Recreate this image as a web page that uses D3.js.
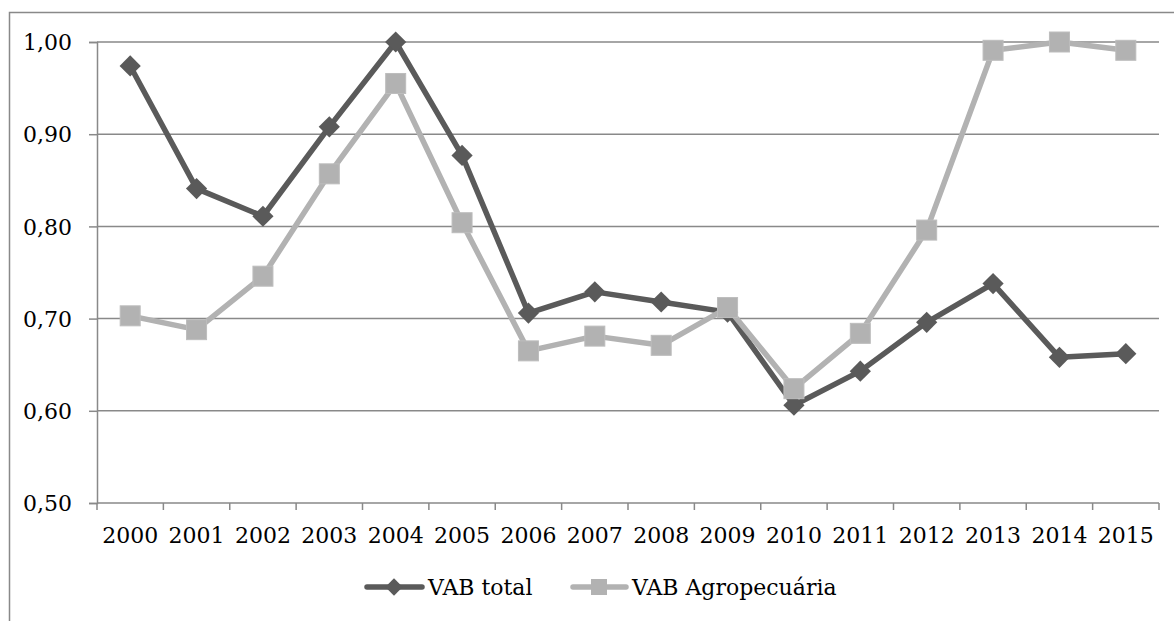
<!DOCTYPE html>
<html>
<head>
<meta charset="utf-8">
<script src="https://cdn.jsdelivr.net/npm/d3@7"></script>
<style>
  body { margin: 0; background: #fff; }
  svg text { fill: #000; }
</style>
</head>
<body>
<svg id="chart" width="1174" height="621"></svg>
<script>
// values
const years = ["2000", "2001", "2002", "2003", "2004", "2005", "2006", "2007",
               "2008", "2009", "2010", "2011", "2012", "2013", "2014", "2015"];
const vabTotal = [0.974, 0.841, 0.811, 0.908, 1.000, 0.877, 0.706, 0.729,
                  0.718, 0.707, 0.606, 0.643, 0.696, 0.738, 0.658, 0.662];
const vabAgro = [0.703, 0.688, 0.746, 0.857, 0.955, 0.804, 0.665, 0.681,
                 0.671, 0.712, 0.624, 0.684, 0.796, 0.991, 1.000, 0.991];
const yTicks = [0.5, 0.6, 0.7, 0.8, 0.9, 1.0];
const seriesNames = ["VAB total", "VAB Agropecuária"];

const dark = "#5a5a5a", light = "#b2b2b2", grid = "#898989";
const fontSize = 22;

const svg = d3.select("#chart").style("font-family", "DejaVu Serif");

// outer frame (right and bottom edges fall outside the picture)
svg.append("path")
  .attr("d", "M9.5,621 L9.5,12.5 L1174,12.5")
  .attr("fill", "none")
  .attr("stroke", grid)
  .attr("stroke-width", 1.5);

const plot = { left: 97, right: 1159, top: 42, bottom: 503 };

const x = d3.scaleBand().domain(years).range([plot.left, plot.right]);
const y = d3.scaleLinear().domain([0.5, 1.0]).range([plot.bottom, plot.top]);
const fmt = d => d3.format(".2f")(d).replace(".", ",");

// gridlines
svg.append("g")
  .selectAll("line")
  .data(yTicks.filter(d => d > 0.5))
  .enter()
  .append("line")
  .attr("x1", plot.left)
  .attr("x2", plot.right)
  .attr("y1", d => y(d))
  .attr("y2", d => y(d))
  .attr("stroke", grid)
  .attr("stroke-width", 1.5);

// y axis
const yAxis = svg.append("g")
  .attr("transform", `translate(${plot.left},0)`)
  .call(d3.axisLeft(y).tickValues(yTicks).tickFormat(fmt).tickSize(8).tickPadding(17));
yAxis.attr("font-family", null).attr("font-size", fontSize);
yAxis.select(".domain").attr("stroke", grid).attr("stroke-width", 1.5);
yAxis.selectAll(".tick line").attr("stroke", grid).attr("stroke-width", 1.5);
yAxis.selectAll(".tick text")
  .attr("fill", "#000")
  .attr("dy", "0.35em");

// x axis with ticks at category boundaries
const xAxis = svg.append("g")
  .attr("transform", `translate(0,${plot.bottom})`);
xAxis.append("line")
  .attr("x1", plot.left).attr("x2", plot.right)
  .attr("stroke", grid).attr("stroke-width", 1.5);
xAxis.selectAll(".xtick")
  .data(years.concat(["end"]))
  .enter()
  .append("line")
  .attr("class", "xtick")
  .attr("x1", (d, i) => plot.left + i * x.bandwidth())
  .attr("x2", (d, i) => plot.left + i * x.bandwidth())
  .attr("y1", 0).attr("y2", 7)
  .attr("stroke", grid).attr("stroke-width", 1.5);
xAxis.selectAll(".xlabel")
  .data(years)
  .enter()
  .append("text")
  .attr("class", "xlabel")
  .attr("x", d => x(d) + x.bandwidth() / 2)
  .attr("y", 40)
  .attr("text-anchor", "middle")
  .attr("font-size", fontSize)
  .text(d => d);

const line = d3.line()
  .x((d, i) => x(years[i]) + x.bandwidth() / 2)
  .y(d => y(d));

const diamond = d3.symbol().type(d3.symbolSquare).size(225);

// VAB total
svg.append("path")
  .datum(vabTotal)
  .attr("d", line)
  .attr("fill", "none")
  .attr("stroke", dark)
  .attr("stroke-width", 5.5)
  .attr("stroke-linejoin", "round");
svg.append("g")
  .selectAll("path")
  .data(vabTotal)
  .enter()
  .append("path")
  .attr("d", diamond)
  .attr("transform", (d, i) => `translate(${x(years[i]) + x.bandwidth() / 2},${y(d)}) rotate(45)`)
  .attr("fill", dark);

// VAB Agropecuária
svg.append("path")
  .datum(vabAgro)
  .attr("d", line)
  .attr("fill", "none")
  .attr("stroke", light)
  .attr("stroke-width", 5.5)
  .attr("stroke-linejoin", "round");
svg.append("g")
  .selectAll("rect")
  .data(vabAgro)
  .enter()
  .append("rect")
  .attr("x", (d, i) => x(years[i]) + x.bandwidth() / 2 - 10)
  .attr("y", d => y(d) - 10)
  .attr("width", 20)
  .attr("height", 20)
  .attr("fill", light)
  .attr("stroke", "#bdbdbd")
  .attr("stroke-width", 1);

// legend
const legendY = 587;
const leg = svg.append("g");
leg.append("line")
  .attr("x1", 367).attr("x2", 422).attr("y1", legendY).attr("y2", legendY)
  .attr("stroke", dark).attr("stroke-width", 5.5).attr("stroke-linecap", "round");
leg.append("path")
  .attr("d", d3.symbol().type(d3.symbolSquare).size(150))
  .attr("transform", `translate(394,${legendY}) rotate(45)`)
  .attr("fill", dark);
leg.append("text")
  .attr("x", 428).attr("y", legendY + 8)
  .attr("font-size", fontSize)
  .text(seriesNames[0]);

leg.append("line")
  .attr("x1", 573).attr("x2", 626).attr("y1", legendY).attr("y2", legendY)
  .attr("stroke", light).attr("stroke-width", 5.5).attr("stroke-linecap", "round");
leg.append("rect")
  .attr("x", 591).attr("y", legendY - 8).attr("width", 16).attr("height", 16)
  .attr("fill", light);
leg.append("text")
  .attr("x", 632).attr("y", legendY + 8)
  .attr("font-size", fontSize)
  .text(seriesNames[1]);
</script>
</body>
</html>
